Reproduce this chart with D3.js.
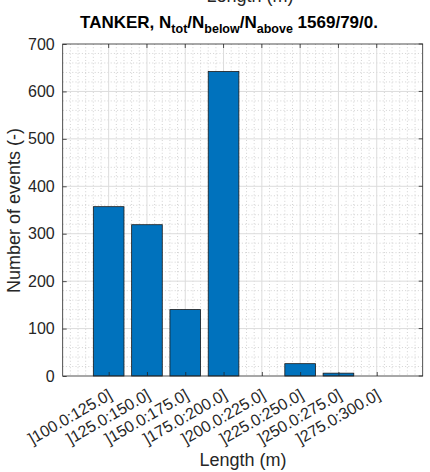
<!DOCTYPE html>
<html>
<head>
<meta charset="utf-8">
<script src="https://cdn.jsdelivr.net/npm/d3@7"></script>
<style>
  html, body { margin: 0; padding: 0; background: #fff; }
  svg { display: block; }
  svg text { font-family: "Liberation Sans", Arial, Helvetica, sans-serif; }
</style>
</head>
<body>
<svg id="chart" width="430" height="472"></svg>
<script>
// Length bins (m) and event counts per bin
const categories = ["]100.0:125.0]", "]125.0:150.0]", "]150.0:175.0]", "]175.0:200.0]",
                    "]200.0:225.0]", "]225.0:250.0]", "]250.0:275.0]", "]275.0:300.0]"];
const counts = [357, 319, 140, 642, 0, 26, 6, 0];
const yTicks = [0, 100, 200, 300, 400, 500, 600, 700];
const titleParts = [
  { t: "TANKER, N", sub: false },
  { t: "tot", sub: true },
  { t: "/N", sub: false },
  { t: "below", sub: true },
  { t: "/N", sub: false },
  { t: "above", sub: true },
  { t: " 1569/79/0.", sub: false }
];
const xLabel = "Length (m)";
const yLabel = "Number of events (-)";

const svg = d3.select("#chart");
const pLeft = 62.7, pRight = 422.7, pTop = 44, pBottom = 376;
const axisColor = "#262626";
const fontFam = "'Liberation Sans', Arial, Helvetica, sans-serif";

// categories sit at positions 1..8
const x = d3.scaleLinear().domain([-0.2, 9.2]).range([pLeft, pRight]);
const y = d3.scaleLinear().domain([0, 700]).range([pBottom, pTop]);

const g = svg.append("g");

// minor grid (dotted)
const xMinor = d3.range(0, 46).map(k => +(k * 0.2).toFixed(1))
  .filter(v => !(Number.isInteger(v) && v >= 1 && v <= 8));
const yMinor = d3.range(0, 36).map(k => k * 20).filter(v => v % 100 !== 0);
g.append("g").selectAll("line").data(xMinor).join("line")
  .attr("x1", d => x(d)).attr("x2", d => x(d))
  .attr("y1", pTop).attr("y2", pBottom)
  .attr("stroke", "#c8c8c8").attr("stroke-width", 0.8).attr("stroke-dasharray", "1,2.2");
g.append("g").selectAll("line").data(yMinor).join("line")
  .attr("x1", pLeft).attr("x2", pRight)
  .attr("y1", d => y(d)).attr("y2", d => y(d))
  .attr("stroke", "#c8c8c8").attr("stroke-width", 0.8).attr("stroke-dasharray", "1,2.2");

// major grid
g.append("g").selectAll("line").data(d3.range(1, 9)).join("line")
  .attr("x1", d => x(d)).attr("x2", d => x(d))
  .attr("y1", pTop).attr("y2", pBottom)
  .attr("stroke", "#dcdcdc").attr("stroke-width", 1);
g.append("g").selectAll("line").data(yTicks.slice(1, -1)).join("line")
  .attr("x1", pLeft).attr("x2", pRight)
  .attr("y1", d => y(d)).attr("y2", d => y(d))
  .attr("stroke", "#dcdcdc").attr("stroke-width", 1);

// bars
const bw = 0.8;
g.append("g").selectAll("rect").data(counts).join("rect")
  .attr("x", (d, i) => x(i + 1 - bw / 2))
  .attr("width", x(bw) - x(0))
  .attr("y", d => y(d))
  .attr("height", d => y(0) - y(d))
  .attr("fill", "#0072BD")
  .attr("stroke", d => d > 0 ? "#1a1a1a" : "none")
  .attr("stroke-width", 0.8);

// axes box
const tl = 4;
g.append("rect").attr("x", pLeft).attr("y", pTop)
  .attr("width", pRight - pLeft).attr("height", pBottom - pTop)
  .attr("fill", "none").attr("stroke", axisColor).attr("stroke-width", 0.8);

// y ticks (inward, both sides)
const yAxisL = d3.axisLeft(y).tickValues(yTicks).tickSizeInner(-tl).tickSizeOuter(0).tickPadding(8);
const gy = g.append("g").attr("transform", `translate(${pLeft},0)`).call(yAxisL)
  .attr("font-family", fontFam).attr("font-size", 16);
gy.select(".domain").remove();
gy.selectAll(".tick line").attr("stroke", axisColor).attr("stroke-width", 0.8);
gy.selectAll(".tick text").attr("fill", axisColor);
g.append("g").selectAll("line").data(yTicks).join("line")
  .attr("x1", pRight).attr("x2", pRight - tl)
  .attr("y1", d => y(d)).attr("y2", d => y(d))
  .attr("stroke", axisColor).attr("stroke-width", 0.8);

// x ticks (inward, top and bottom) and rotated labels
const xAxisB = d3.axisBottom(x).tickValues(d3.range(1, 9)).tickSizeInner(-tl).tickSizeOuter(0)
  .tickFormat((d) => categories[d - 1]);
const gx = g.append("g").attr("transform", `translate(0,${pBottom})`).call(xAxisB)
  .attr("font-family", fontFam).attr("font-size", 16);
gx.select(".domain").remove();
gx.selectAll(".tick line").attr("stroke", axisColor).attr("stroke-width", 0.8);
gx.selectAll(".tick text")
  .attr("fill", axisColor)
  .attr("text-anchor", "end")
  .attr("x", 0).attr("y", 0).attr("dy", 0)
  .attr("transform", "translate(4,22) rotate(-30)");
g.append("g").selectAll("line").data(d3.range(1, 9)).join("line")
  .attr("x1", d => x(d)).attr("x2", d => x(d))
  .attr("y1", pTop).attr("y2", pTop + tl)
  .attr("stroke", axisColor).attr("stroke-width", 0.8);

// axis labels
svg.append("text")
  .attr("x", 243).attr("y", 466)
  .attr("text-anchor", "middle").attr("fill", axisColor)
  .style("font-size", "18px").text(xLabel);
svg.append("text")
  .attr("transform", "translate(20,210.5) rotate(-90)")
  .attr("text-anchor", "middle").attr("fill", axisColor)
  .style("font-size", "18px").text(yLabel);

// a second x label drawn at the top edge, mostly outside the page
svg.append("text")
  .attr("x", 250).attr("y", 1.5)
  .attr("text-anchor", "middle").attr("fill", axisColor)
  .style("font-size", "18px").text(xLabel);

// title with subscripts
const title = svg.append("text")
  .attr("x", 229).attr("y", 28)
  .attr("text-anchor", "middle").attr("fill", "#000")
  .style("font-size", "17px").style("font-weight", "bold");
let shifted = false;
titleParts.forEach(p => {
  const ts = title.append("tspan").text(p.t);
  if (p.sub && !shifted) { ts.attr("dy", 5).style("font-size", "12.5px"); shifted = true; }
  else if (!p.sub && shifted) { ts.attr("dy", -5); shifted = false; }
  else if (p.sub) ts.style("font-size", "12.5px");
});
</script>
</body>
</html>
